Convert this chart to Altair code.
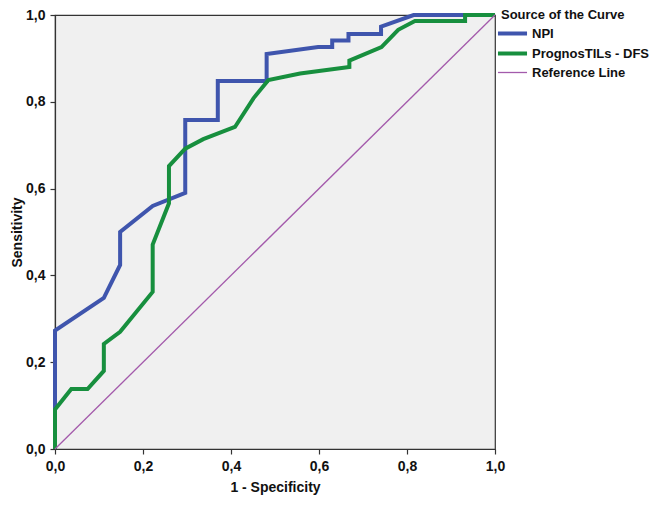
import altair as alt
import pandas as pd

npi_x = [0.0, 0.0, 0.111, 0.148, 0.148, 0.222, 0.296, 0.296, 0.370, 0.370, 0.481, 0.481, 0.598, 0.630, 0.630, 0.667, 0.667, 0.741, 0.741, 0.815, 1.0]
npi_y = [0.0, 0.273, 0.348, 0.424, 0.500, 0.560, 0.590, 0.758, 0.758, 0.848, 0.848, 0.910, 0.926, 0.926, 0.941, 0.941, 0.956, 0.956, 0.973, 1.0, 1.0]

tils_x = [0.0, 0.0, 0.037, 0.074, 0.111, 0.111, 0.148, 0.222, 0.222, 0.259, 0.259, 0.296, 0.337, 0.409, 0.451, 0.485, 0.557, 0.669, 0.669, 0.742, 0.780, 0.818, 0.932, 0.932, 1.0]
tils_y = [0.0, 0.091, 0.138, 0.138, 0.180, 0.242, 0.270, 0.362, 0.471, 0.566, 0.652, 0.692, 0.714, 0.742, 0.808, 0.850, 0.865, 0.880, 0.895, 0.926, 0.966, 0.986, 0.986, 1.0, 1.0]

ref_x = [0.0, 1.0]
ref_y = [0.0, 1.0]

series = ["NPI", "PrognosTILs - DFS", "Reference Line"]
colors = ["#3f55ad", "#178f3e", "#a35aab"]
widths = [4.0, 4.0, 1.3]

rows = []
for name, xs, ys in [(series[0], npi_x, npi_y), (series[1], tils_x, tils_y), (series[2], ref_x, ref_y)]:
    for i, (x, y) in enumerate(zip(xs, ys)):
        rows.append({"series": name, "x": x, "y": y, "i": i})
df = pd.DataFrame(rows)

font = "Liberation Sans"
label_expr = "replace(format(datum.value, '.1f'), '.', ',')"
ticks = [0, 0.2, 0.4, 0.6, 0.8, 1.0]

axis_common = dict(
    values=ticks, labelExpr=label_expr, grid=False, tickSize=5, labelFlush=False,
    domainColor="#333333", tickColor="#333333", domainWidth=1.2, tickWidth=1.2,
    labelFont=font, labelFontSize=14, labelFontWeight="bold", labelColor="#111111",
    titleFont=font, titleFontSize=14, titleFontWeight="bold", titleColor="#111111",
)

legend = alt.Legend(
    title="Source of the Curve", orient="none", legendX=446, legendY=-6,
    symbolType="M-1.53,0H1.53", symbolSize=361,
    titleFont=font, titleFontSize=13, titleFontWeight="bold", titleColor="#111111",
    titlePadding=0,
    labelFont=font, labelFontSize=13, labelFontWeight="bold", labelColor="#111111",
    rowPadding=0, labelOffset=8,
)

chart = alt.Chart(df).mark_line(strokeJoin="miter", strokeCap="butt").encode(
    x=alt.X("x:Q", scale=alt.Scale(domain=[0, 1], nice=False),
            axis=alt.Axis(title="1 - Specificity", labelPadding=5, titlePadding=7, **axis_common)),
    y=alt.Y("y:Q", scale=alt.Scale(domain=[0, 1], nice=False),
            axis=alt.Axis(title="Sensitivity", labelPadding=5, titlePadding=1, **axis_common)),
    color=alt.Color("series:N", scale=alt.Scale(domain=series, range=colors), legend=legend),
    strokeWidth=alt.StrokeWidth("series:N", scale=alt.Scale(type="ordinal", domain=series, range=widths),
                                legend=legend),
    order="i:Q",
).properties(
    width=440, height=434,
    autosize=alt.AutoSizeParams(type="none"),
    padding={"left": 47, "top": 7, "right": 154, "bottom": 47},
    background="white",
).configure_view(
    fill="#f0f0f0", stroke="#333333", strokeWidth=1.2
)

chart.save("out.html", embed_options={"renderer": "svg", "actions": False})
